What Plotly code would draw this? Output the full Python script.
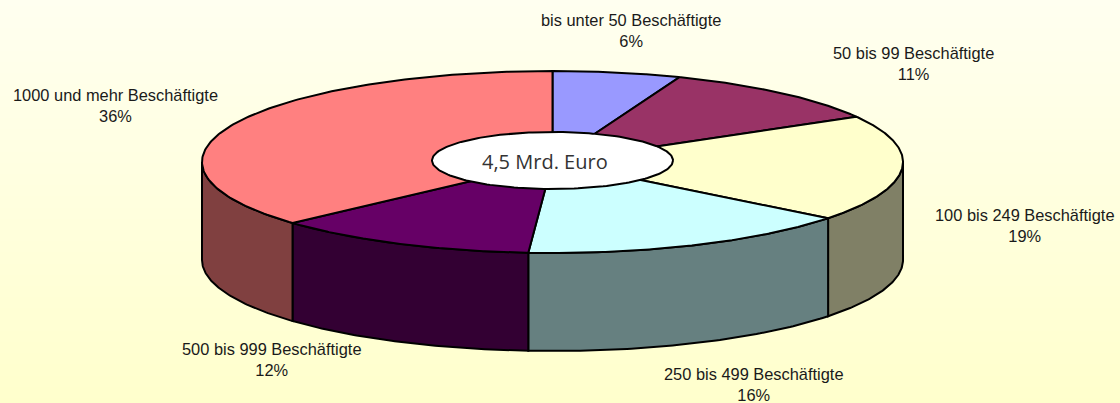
import numpy as np
import plotly.graph_objects as go

# --- data ---
categories = ["bis unter 50 Beschäftigte", "50 bis 99 Beschäftigte", "100 bis 249 Beschäftigte",
              "250 bis 499 Beschäftigte", "500 bis 999 Beschäftigte", "1000 und mehr Beschäftigte"]
shares = [5.9, 10.8, 18.9, 15.5, 12.2, 36.7]
percent_labels = ["6%", "11%", "19%", "16%", "12%", "36%"]
center_label = "4,5 Mrd. Euro"

# --- styles ---
top_colors = ["#9999FF", "#993366", "#FFFFCC", "#CCFFFF", "#660066", "#FF8080"]
side_colors = ["#4D4D80", "#4D1A33", "#808066", "#668080", "#330033", "#804040"]
label_pos = [(631, 30), (913, 63), (1025, 225), (754, 384), (272, 359), (115, 105)]

W, H = 1120, 403
CX, CY, RX, RY, DEPTH = 552.5, 162, 350.5, 91, 98
E_CX, E_CY, E_RX, E_RY = 552.5, 160.5, 120.5, 28.5
LINE = dict(color="black", width=2)


def pt(deg):
    t = np.radians(deg)
    return CX + RX * np.sin(t), CY - RY * np.cos(t)


fig = go.Figure()

# background gradient
fig.add_trace(go.Heatmap(x=[0, W], y=[0, H], z=[[0, 0], [1, 1]], zsmooth="best", showscale=False,
                         colorscale=[[0, "#FFFFF0"], [1, "#FFFFCC"]], hoverinfo="skip"))

edges = np.concatenate([[0], np.cumsum(shares)]) * 3.6

# side walls (only the front half of the cylinder shows)
for i in range(len(shares)):
    a, b = max(edges[i], 90), min(edges[i + 1], 270)
    if b <= a:
        continue
    ang = np.linspace(a, b, 80)
    x, y = pt(ang)
    fig.add_trace(go.Scatter(x=np.concatenate([x, x[::-1], x[:1]]),
                             y=np.concatenate([y, y[::-1] + DEPTH, y[:1]]),
                             mode="lines", fill="toself", fillcolor=side_colors[i], line=LINE,
                             hoverinfo="skip", showlegend=False))

# top slices
for i in range(len(shares)):
    ang = np.linspace(edges[i], edges[i + 1], 160)
    x, y = pt(ang)
    fig.add_trace(go.Scatter(x=np.concatenate([[CX], x, [CX]]), y=np.concatenate([[CY], y, [CY]]),
                             mode="lines", fill="toself", fillcolor=top_colors[i], line=LINE,
                             name=categories[i], hoverinfo="name", showlegend=False))

# centre ellipse
t = np.linspace(0, 2 * np.pi, 200)
fig.add_trace(go.Scatter(x=E_CX + E_RX * np.cos(t), y=E_CY + E_RY * np.sin(t), mode="lines",
                         fill="toself", fillcolor="white", line=LINE, hoverinfo="skip", showlegend=False))

annotations = [dict(x=545, y=161, text=center_label, showarrow=False,
                    font=dict(family="Open Sans", size=20, color="#333333"))]
for c, p, (lx, ly) in zip(categories, percent_labels, label_pos):
    annotations.append(dict(x=lx, y=ly, text=f"{c}<br>{p}", showarrow=False, align="center",
                            font=dict(family="Liberation Sans", size=16.4, color="#1a1a1a")))

fig.update_layout(width=W, height=H, margin=dict(l=0, r=0, t=0, b=0), showlegend=False,
                  paper_bgcolor="#FFFFE6", plot_bgcolor="#FFFFE6",
                  xaxis=dict(range=[0, W], visible=False, fixedrange=True),
                  yaxis=dict(range=[H, 0], visible=False, fixedrange=True),
                  annotations=annotations)
fig.write_html("out.html", config=dict(displayModeBar=False),
               post_script="document.body.style.margin='0';document.documentElement.style.overflow='hidden';")
